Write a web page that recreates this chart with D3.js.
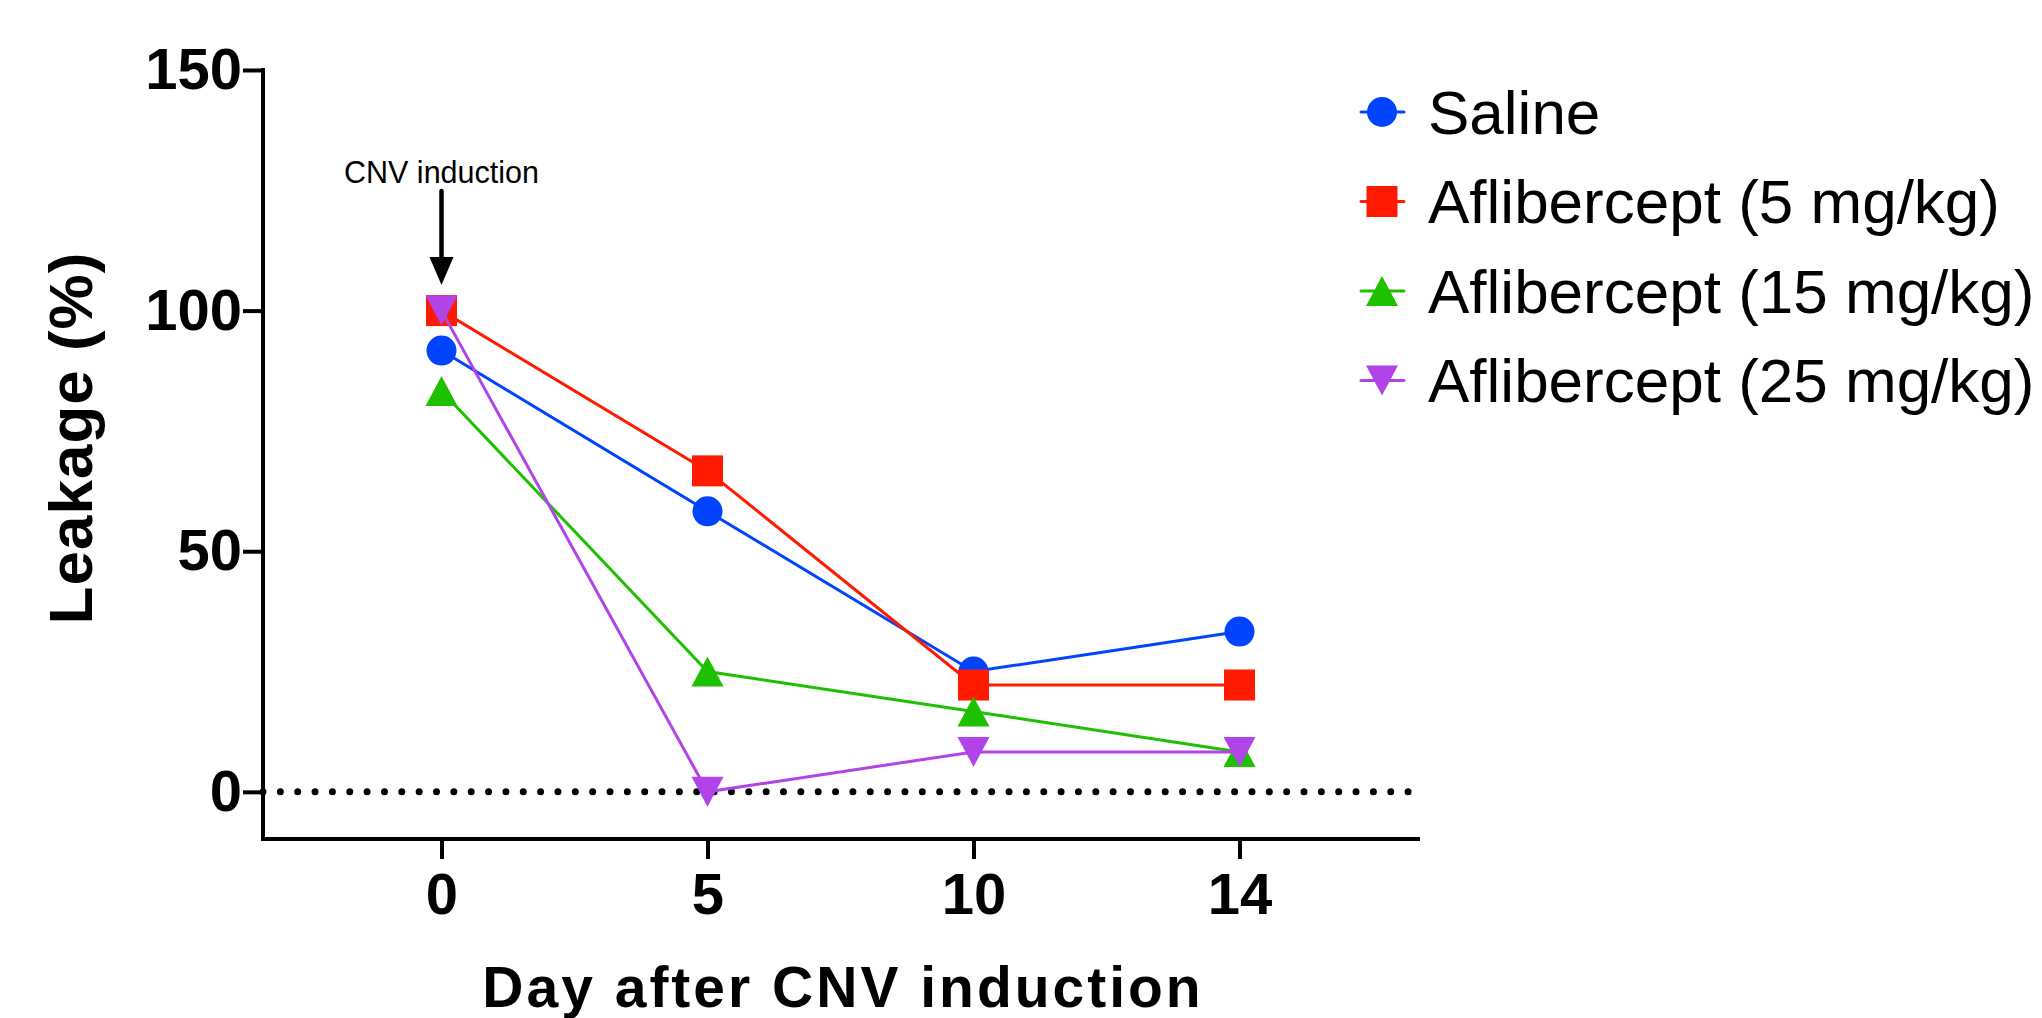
<!DOCTYPE html>
<html>
<head>
<meta charset="utf-8">
<script src="https://cdn.jsdelivr.net/npm/d3@7"></script>
<style>
  body { margin: 0; background: #fff; }
  text { font-family: "Liberation Sans", Arial, sans-serif; }
</style>
</head>
<body>
<div id="chart"></div>
<script>
// data
var days = ["0", "5", "10", "14"];
var seriesNames = ["Saline", "Aflibercept (5 mg/kg)", "Aflibercept (15 mg/kg)", "Aflibercept (25 mg/kg)"];
var saline = [91.7, 58.3, 25.0, 33.3];
var aflib5 = [100, 66.7, 22.2, 22.2];
var aflib15 = [83.3, 25.0, 16.7, 8.3];
var aflib25 = [100, 0, 8.3, 8.3];
var yTicks = [0, 50, 100, 150];

var colors = ["#0044ff", "#ff1a00", "#1ec000", "#b044e8"];
var shapes = ["circle", "square", "up", "down"];
var allSeries = [saline, aflib5, aflib15, aflib25];

var svgWidth = 2042;
var svgHeight = 1018;

var svg = d3.select("#chart")
  .append("svg")
  .attr("width", svgWidth)
  .attr("height", svgHeight);

// plot frame (window.top is taken, so prefix these)
var plotLeft = 263, plotRight = 1418, plotTop = 70, plotBottom = 839;

var x = d3.scalePoint()
  .domain(days)
  .range([plotLeft, plotRight])
  .padding(0.671);

var y = d3.scaleLinear()
  .domain([-9.8, 150])
  .range([plotBottom, plotTop]);

// draw a marker shape centred on 0,0
function drawMarker(g, shape, color) {
  if (shape === "circle") {
    g.append("circle").attr("r", 15).attr("fill", color);
  } else if (shape === "square") {
    g.append("rect").attr("x", -15.5).attr("y", -15.5)
      .attr("width", 31).attr("height", 31).attr("fill", color);
  } else if (shape === "up") {
    g.append("path").attr("d", "M0,-15L16,15L-16,15Z").attr("fill", color);
  } else {
    g.append("path").attr("d", "M0,15L16,-15L-16,-15Z").attr("fill", color);
  }
}

// dotted zero line
svg.append("line")
  .attr("x1", plotLeft).attr("x2", 1412)
  .attr("y1", y(0)).attr("y2", y(0))
  .attr("stroke", "#000")
  .attr("stroke-width", 7)
  .attr("stroke-linecap", "round")
  .attr("stroke-dasharray", "0 17.35");

// axes
var leftAxis = d3.axisLeft(y).tickValues(yTicks).tickSize(20).tickSizeOuter(0).tickPadding(1);
var bottomAxis = d3.axisBottom(x).tickSize(20).tickSizeOuter(0).tickPadding(13.8);

var yAxisG = svg.append("g")
  .attr("transform", `translate(${plotLeft},0)`)
  .call(leftAxis);
var xAxisG = svg.append("g")
  .attr("transform", `translate(0,${plotBottom})`)
  .call(bottomAxis);

[yAxisG, xAxisG].forEach(function(g) {
  g.select(".domain").remove();
  g.selectAll(".tick line").attr("stroke", "#000").attr("stroke-width", 4);
  g.selectAll(".tick text")
    .attr("fill", "#000")
    .style("font-family", "'Liberation Sans', Arial, sans-serif")
    .style("font-size", "58px")
    .style("font-weight", "bold");
});

svg.append("path")
  .attr("d", `M${plotLeft},${y(150)}V${plotBottom}H${plotRight}`)
  .attr("fill", "none")
  .attr("stroke", "#000")
  .attr("stroke-width", 4)
  .attr("stroke-linecap", "square");

// series lines and markers
var line = d3.line()
  .x(function(d, i) { return x(days[i]); })
  .y(function(d) { return y(d); });

allSeries.forEach(function(vals, s) {
  svg.append("path")
    .attr("d", line(vals))
    .attr("fill", "none")
    .attr("stroke", colors[s])
    .attr("stroke-width", 3);

  vals.forEach(function(v, i) {
    var g = svg.append("g").attr("transform", `translate(${x(days[i])},${y(v)})`);
    drawMarker(g, shapes[s], colors[s]);
  });
});

// annotation
svg.append("text")
  .attr("x", x("0")).attr("y", 183)
  .attr("text-anchor", "middle")
  .style("font-size", "30.5px")
  .text("CNV induction");

svg.append("line")
  .attr("x1", x("0")).attr("x2", x("0"))
  .attr("y1", 191).attr("y2", 262)
  .attr("stroke", "#000")
  .attr("stroke-width", 4.5)
  .attr("stroke-linecap", "round");
svg.append("path")
  .attr("d", `M${x("0") - 12},257L${x("0") + 12},257L${x("0")},285Z`)
  .attr("fill", "#000");

// axis titles
svg.append("text")
  .attr("transform", "translate(92,438) rotate(-90)")
  .attr("text-anchor", "middle")
  .style("font-size", "62px")
  .style("font-weight", "bold")
  .style("letter-spacing", "1px")
  .text("Leakage (%)");

svg.append("text")
  .attr("x", 843).attr("y", 1007)
  .attr("text-anchor", "middle")
  .style("font-size", "57px")
  .style("font-weight", "bold")
  .style("letter-spacing", "3px")
  .text("Day after CNV induction");

// legend
var legend = svg.append("g").attr("transform", "translate(1382,112)");
seriesNames.forEach(function(name, s) {
  var row = legend.append("g").attr("transform", `translate(0,${s * 89.5})`);
  row.append("line")
    .attr("x1", -21).attr("x2", 22)
    .attr("stroke", colors[s])
    .attr("stroke-width", 3)
    .attr("stroke-linecap", "round");
  drawMarker(row, shapes[s], colors[s]);
  row.append("text")
    .attr("x", 46)
    .attr("dy", "0.35em")
    .style("font-size", "62px")
    .text(name);
});
</script>
</body>
</html>
